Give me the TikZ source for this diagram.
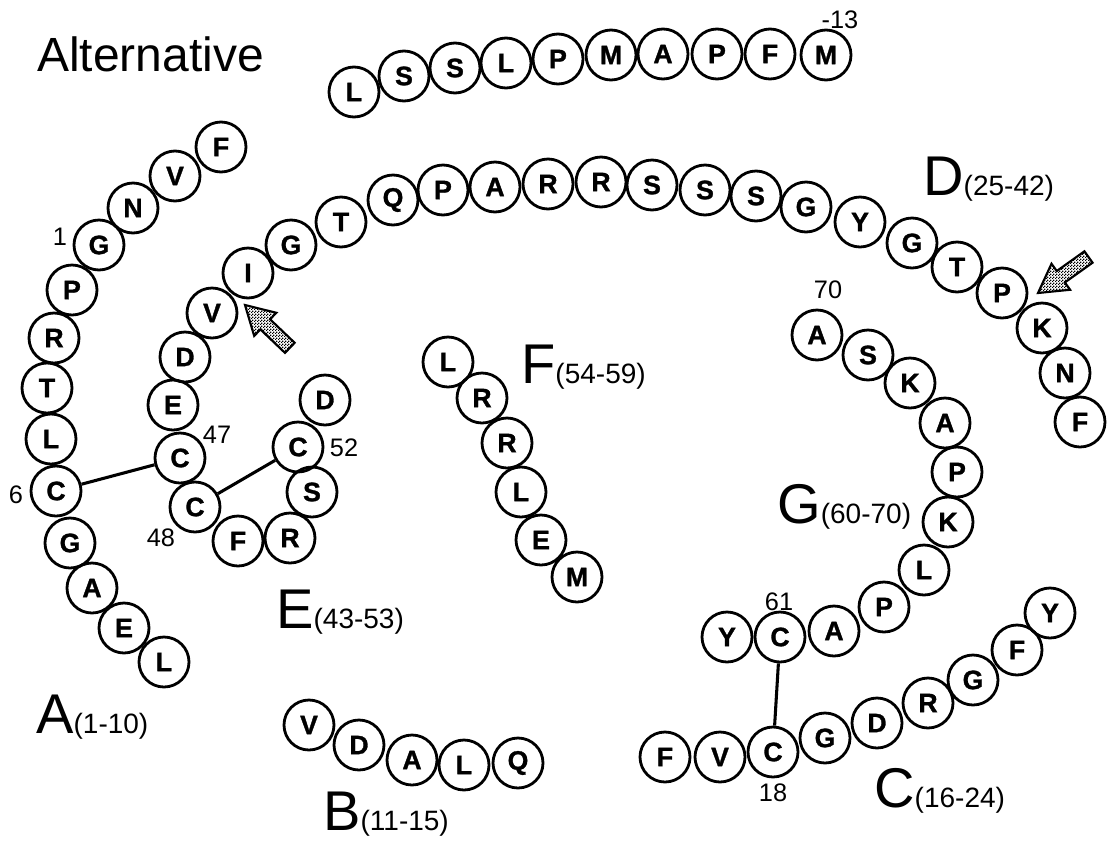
\documentclass[tikz,border=0pt]{standalone}
\usepackage{fontspec}
\setmainfont{Liberation Sans}
\newfontfamily\resfont[BoldFeatures={FakeBold=1.2}]{Liberation Sans}
\usetikzlibrary{patterns}
% fine halftone used inside the pointer arrows
\pgfdeclarepatternformonly{halftone}{\pgfpointorigin}{\pgfqpoint{2pt}{2pt}}{\pgfqpoint{2pt}{2pt}}{%
  \pgfpathrectangle{\pgfpointorigin}{\pgfqpoint{1pt}{1pt}}%
  \pgfpathrectangle{\pgfqpoint{1pt}{1pt}}{\pgfqpoint{1pt}{1pt}}%
  \pgfusepath{fill}}
\tikzset{
  res/.style={circle,draw,line width=2.1pt,minimum size=37.5pt,inner sep=0pt,
    font=\resfont\fontsize{20}{20}\selectfont\bfseries},
  num/.style={inner sep=0pt,font=\fontsize{19}{19}\selectfont},
  seg/.style={anchor=base west,inner sep=0pt},
  bond/.style={line width=2.3pt},
  ptr/.style={draw,line width=1.6pt,pattern=halftone,line join=miter},
  pics/ptrarrow/.style={code={
    \draw[ptr] (0,0) -- (-28,16) -- (-28,7) -- (-62,7) -- (-62,-7)
      -- (-28,-7) -- (-28,-16) -- cycle;}}
}
\newcommand{\bigseg}[2]{{\fontsize{42}{42}\selectfont #1}{\fontsize{21}{21}\selectfont(#2)}}
\begin{document}
\begin{tikzpicture}[x=0.75pt,y=-0.75pt]
\useasboundingbox (0,0) rectangle (1116,843);

\node[seg,font=\fontsize{36}{36}\selectfont] (title) at (37,71) {Alternative};

% signal peptide -13 .. -4
\node[res] (m13) at (826,55) {M};
\node[res] (m12) at (770,54) {F};
\node[res] (m11) at (717,54) {P};
\node[res] (m10) at (663,54) {A};
\node[res] (m9)  at (611,55) {M};
\node[res] (m8)  at (558,59) {P};
\node[res] (m7)  at (506,63) {L};
\node[res] (m6)  at (455,68) {S};
\node[res] (m5)  at (404,76) {S};
\node[res] (m4)  at (354,92) {L};
\node[num] (lm13) at (840,20) {-13};

% -3 .. -1
\node[res] (m3) at (221,147) {F};
\node[res] (m2) at (175,176) {V};
\node[res] (m1) at (133,208) {N};

% segment A (1-10)
\node[res] (a1)  at (99,245)  {G};
\node[res] (a2)  at (72,290)  {P};
\node[res] (a3)  at (54,338)  {R};
\node[res] (a4)  at (47,388)  {T};
\node[res] (a5)  at (51,439)  {L};
\node[res] (a6)  at (56,491)  {C};
\node[res] (a7)  at (70,543)  {G};
\node[res] (a8)  at (92,588)  {A};
\node[res] (a9)  at (124,628) {E};
\node[res] (a10) at (164,662) {L};
\node[num] (la1) at (60,237) {1};
\node[num] (la6) at (16,495) {6};

% segment B (11-15)
\node[res] (b11) at (309,725) {V};
\node[res] (b12) at (359,745) {D};
\node[res] (b13) at (412,760) {A};
\node[res] (b14) at (464,765) {L};
\node[res] (b15) at (518,763) {Q};

% segment C (16-24)
\node[res] (c16) at (665,757)  {F};
\node[res] (c17) at (720,757)  {V};
\node[res] (c18) at (773,752)  {C};
\node[res] (c19) at (825,738)  {G};
\node[res] (c20) at (877,723)  {D};
\node[res] (c21) at (928,703)  {R};
\node[res] (c22) at (973,680)  {G};
\node[res] (c23) at (1017,650) {F};
\node[res] (c24) at (1050,613) {Y};
\node[num] (lc18) at (773,793) {18};

% segment D (25-42)
\node[res] (d25) at (1080,422) {F};
\node[res] (d26) at (1065,373) {N};
\node[res] (d27) at (1042,328) {K};
\node[res] (d28) at (1002,293) {P};
\node[res] (d29) at (957,267)  {T};
\node[res] (d30) at (912,243)  {G};
\node[res] (d31) at (860,222)  {Y};
\node[res] (d32) at (806,207)  {G};
\node[res] (d33) at (756,196)  {S};
\node[res] (d34) at (705,190)  {S};
\node[res] (d35) at (652,185)  {S};
\node[res] (d36) at (601,182)  {R};
\node[res] (d37) at (548,184)  {R};
\node[res] (d38) at (495,187)  {A};
\node[res] (d39) at (443,190)  {P};
\node[res] (d40) at (393,200)  {Q};
\node[res] (d41) at (341,222)  {T};
\node[res] (d42) at (291,245)  {G};

% segment E (43-53)
\node[res] (e43) at (248,273) {I};
\node[res] (e44) at (212,313) {V};
\node[res] (e45) at (185,357) {D};
\node[res] (e46) at (173,405) {E};
\node[res] (e47) at (180,458) {C};
\node[res] (e48) at (195,507) {C};
\node[res] (e49) at (238,541) {F};
\node[res] (e50) at (290,538) {R};
\node[res] (e51) at (312,492) {S};
\node[res] (e52) at (298,447) {C};
\node[res] (e53) at (325,400) {D};
\node[num] (le47) at (217,435) {47};
\node[num] (le48) at (161,538) {48};
\node[num] (le52) at (344,448) {52};

% segment F (54-59)
\node[res] (f54) at (448,362) {L};
\node[res] (f55) at (482,398) {R};
\node[res] (f56) at (507,443) {R};
\node[res] (f57) at (521,492) {L};
\node[res] (f58) at (541,540) {E};
\node[res] (f59) at (577,577) {M};

% segment G (60-70)
\node[res] (g60) at (727,637) {Y};
\node[res] (g61) at (780,637) {C};
\node[res] (g62) at (834,631) {A};
\node[res] (g63) at (884,607) {P};
\node[res] (g64) at (924,570) {L};
\node[res] (g65) at (948,522) {K};
\node[res] (g66) at (957,472) {P};
\node[res] (g67) at (945,423) {A};
\node[res] (g68) at (910,383) {K};
\node[res] (g69) at (868,355) {S};
\node[res] (g70) at (817,335) {A};
\node[num] (lg61) at (779,602) {61};
\node[num] (lg70) at (828,290) {70};

% disulfide bonds
\draw[bond] (a6) -- (e47);
\draw[bond] (e48) -- (e52);
\draw[bond] (g61) -- (c18);

% cleavage-site pointers
\pic[rotate=136.3] (ptrI) at (245,305) {ptrarrow};
\pic[rotate=215.5] (ptrK) at (1038,293) {ptrarrow};

% segment labels
\node[seg] (segA) at (36,733)  {\bigseg{A}{1-10}};
\node[seg] (segB) at (323,830) {\bigseg{B}{11-15}};
\node[seg] (segC) at (874,807) {\bigseg{C}{16-24}};
\node[seg] (segD) at (923,195) {\bigseg{D}{25-42}};
\node[seg] (segE) at (276,628) {\bigseg{E}{43-53}};
\node[seg] (segF) at (521,383) {\bigseg{F}{54-59}};
\node[seg] (segG) at (777,523) {\bigseg{G}{60-70}};
\end{tikzpicture}
\end{document}
